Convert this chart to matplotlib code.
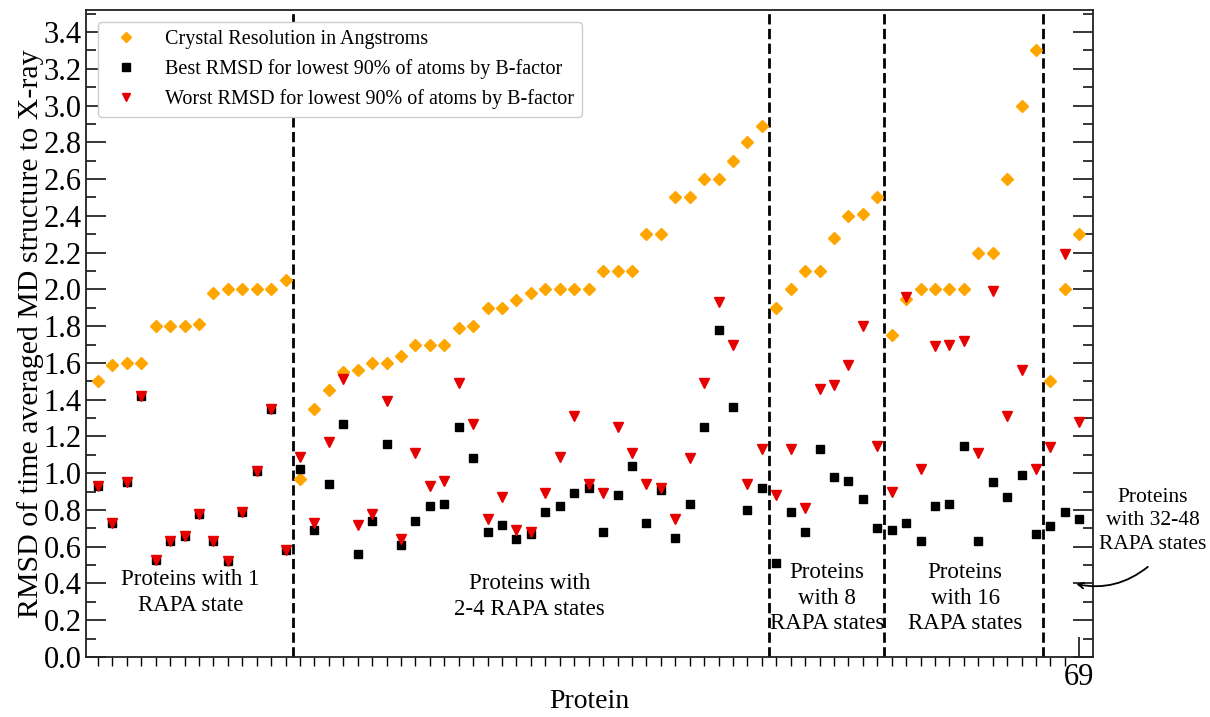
import numpy as np
import matplotlib
matplotlib.use("Agg")
import matplotlib.pyplot as plt
from matplotlib.ticker import MultipleLocator, FixedLocator, FixedFormatter

plt.rcParams['font.family'] = ['Liberation Serif', 'DejaVu Serif']

# crystal resolution (angstrom) for proteins 1..69
resolution = [1.50, 1.59, 1.60, 1.60, 1.80, 1.80, 1.80, 1.81, 1.98, 2.00,
              2.00, 2.00, 2.00, 2.05,
              0.97, 1.35, 1.45, 1.55, 1.56, 1.60, 1.60, 1.64, 1.70, 1.70,
              1.70, 1.79, 1.80, 1.90, 1.90, 1.94, 1.98, 2.00, 2.00, 2.00,
              2.00, 2.10, 2.10, 2.10, 2.30, 2.30, 2.50, 2.50, 2.60, 2.60,
              2.70, 2.80, 2.89,
              1.90, 2.00, 2.10, 2.10, 2.28, 2.40, 2.41, 2.50,
              1.75, 1.95, 2.00, 2.00, 2.00, 2.00, 2.20, 2.20, 2.60, 3.00, 3.30,
              1.50, 2.00, 2.30]

best_rmsd = [0.93, 0.73, 0.95, 1.42, 0.53, 0.63, 0.66, 0.78, 0.63, 0.52,
             0.79, 1.01, 1.35, 0.58,
             1.02, 0.69, 0.94, 1.27, 0.56, 0.74, 1.16, 0.61, 0.74, 0.82,
             0.83, 1.25, 1.08, 0.68, 0.72, 0.64, 0.67, 0.79, 0.82, 0.89,
             0.92, 0.68, 0.88, 1.04, 0.73, 0.91, 0.65, 0.83, 1.25, 1.78,
             1.36, 0.80, 0.92,
             0.51, 0.79, 0.68, 1.13, 0.98, 0.96, 0.86, 0.70,
             0.69, 0.73, 0.63, 0.82, 0.83, 1.15, 0.63, 0.95, 0.87, 0.99, 0.67,
             0.71, 0.79, 0.75]

worst_rmsd = [0.93, 0.73, 0.95, 1.42, 0.53, 0.63, 0.66, 0.78, 0.63, 0.52,
              0.79, 1.01, 1.35, 0.58,
              1.09, 0.73, 1.17, 1.51, 0.72, 0.78, 1.39, 0.64, 1.11, 0.93,
              0.96, 1.49, 1.27, 0.75, 0.87, 0.69, 0.68, 0.89, 1.09, 1.31,
              0.94, 0.89, 1.25, 1.11, 0.94, 0.92, 0.75, 1.08, 1.49, 1.93,
              1.70, 0.94, 1.13,
              0.88, 1.13, 0.81, 1.46, 1.48, 1.59, 1.80, 1.15,
              0.90, 1.96, 1.02, 1.69, 1.70, 1.72, 1.11, 1.99, 1.31, 1.56, 1.02,
              1.14, 2.19, 1.28]

# group boundaries (between proteins) and labels
group_edges = [14.5, 47.5, 55.5, 66.5]
group_labels = ["Proteins with 1\nRAPA state",
                "Proteins with\n2-4 RAPA states",
                "Proteins\nwith 8\nRAPA states",
                "Proteins\nwith 16\nRAPA states"]
group_label_x = [7.4, 30.9, 51.5, 61.1]
group_label_y = [0.35, 0.33, 0.32, 0.32]

protein = np.arange(1, len(resolution) + 1)

fig = plt.figure(figsize=(12.1, 7.17), dpi=100)
ax = fig.add_axes([0.0711, 0.0837, 0.8322, 0.9024])

ax.plot(protein, resolution, linestyle='none', marker='D', markersize=6.5,
        color='#FFA500', label='Crystal Resolution in Angstroms')
ax.plot(protein, best_rmsd, linestyle='none', marker='s', markersize=6.2,
        color='black', label='Best RMSD for lowest 90% of atoms by B-factor')
ax.plot(protein, worst_rmsd, linestyle='none', marker='v', markersize=7.5,
        color='#E60000', label='Worst RMSD for lowest 90% of atoms by B-factor')

for e in group_edges:
    ax.axvline(e, color='black', linestyle='--', linewidth=2, zorder=1)

for lab, gx, gy in zip(group_labels, group_label_x, group_label_y):
    ax.text(gx, gy, lab, ha='center', va='center', fontsize=16.5,
            linespacing=1.3)

# last group is labelled outside the axes
ax.text(74.1, 0.74, "Proteins\nwith 32-48\nRAPA states", ha='center',
        va='center', fontsize=15.5, linespacing=1.3, clip_on=False)
ax.annotate('', xy=(68.6, 0.40), xytext=(73.9, 0.50),
            arrowprops=dict(arrowstyle='->', color='black', lw=1.3,
                            connectionstyle='arc3,rad=-0.25'),
            annotation_clip=False)

ax.set_xlim(0.17, 69.95)
ax.set_ylim(0, 3.52)

ax.yaxis.set_major_locator(MultipleLocator(0.2))
ax.yaxis.set_minor_locator(MultipleLocator(0.1))
ax.yaxis.set_major_formatter(matplotlib.ticker.FormatStrFormatter('%.1f'))
ax.tick_params(axis='y', which='major', direction='in', length=14.4,
               width=1.1, labelsize=22, left=True, right=True, pad=3)
ax.tick_params(axis='y', which='minor', direction='in', length=7.2,
               width=1.1, left=True, right=True)

ax.xaxis.set_major_locator(FixedLocator([69]))
ax.xaxis.set_major_formatter(FixedFormatter(['69']))
ax.xaxis.set_minor_locator(FixedLocator(list(range(1, 69))))
ax.tick_params(axis='x', which='major', direction='in', length=14.4,
               width=1.1, labelsize=22, pad=4)
ax.tick_params(axis='x', which='minor', direction='out', length=6.5,
               width=1.0)

for s in ax.spines.values():
    s.set_linewidth(1.3)
    s.set_color('#222222')

ax.set_xlabel('Protein', fontsize=20)
ax.xaxis.set_label_coords(0.5, -0.05)
ax.set_ylabel('RMSD of time averaged MD structure to X-ray', fontsize=21.5)
ax.yaxis.set_label_coords(-0.042, 0.5)

leg = ax.legend(loc='upper left', fontsize=14.5, framealpha=1,
                bbox_to_anchor=(0.0, 1.0), borderaxespad=0.6,
                handletextpad=0.9, markerscale=0.85)
leg.set_zorder(5)

fig.savefig('out.png', dpi=100)
